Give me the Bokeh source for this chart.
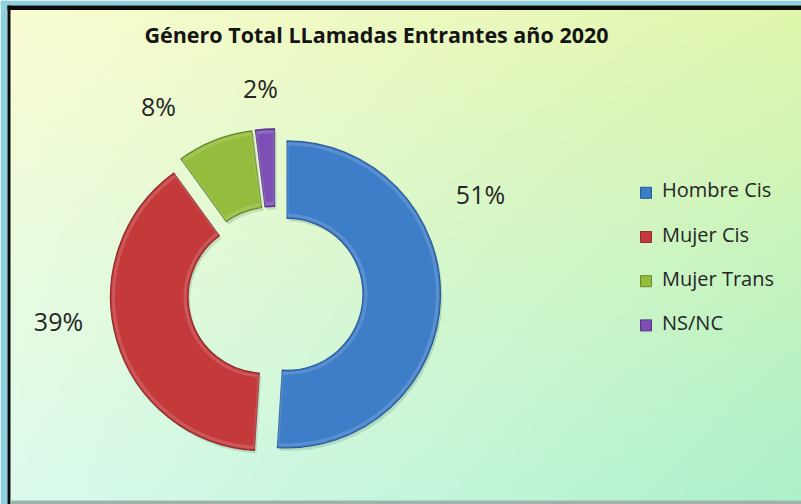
import numpy as np
from bokeh.plotting import figure
from bokeh.models import Range1d, ColumnDataSource
from bokeh.core.properties import value
from bokeh.embed import file_html
from bokeh.resources import INLINE

# ---- data ----
categories = ["Hombre Cis", "Mujer Cis", "Mujer Trans", "NS/NC"]
values = [51, 39, 8, 2]
title_text = "Género Total LLamadas Entrantes año 2020"

# ---- styles / layout (data y = 504 - screen y) ----
colors = ["#3e7dc8", "#c43a3b", "#94bd3d", "#7c4fb4"]
edge_colors = ["#2a5a98", "#8e2b2c", "#68862a", "#553283"]
W, H = 801, 504
cx, cy = 274.8, 210.5
R_out, R_in = 153.5, 76.0
explode = 11.7
label_x = [480, 58, 158, 260]
label_y = [311, 184, 399, 417]
FONT = "Open Sans"

p = figure(width=W, height=H, output_backend="svg", toolbar_location=None,
           x_range=Range1d(0, W), y_range=Range1d(0, H),
           x_axis_location=None, y_axis_location=None, min_border=0)
p.grid.visible = False
p.outline_line_color = None
p.background_fill_color = None
p.border_fill_color = "#8ecfe0"

# ---- background gradient ----
TL = np.array([250, 252, 210.0]); TR = np.array([226, 247, 172.0])
BL = np.array([220, 251, 238.0]); BR = np.array([172, 241, 204.0])
ny, nx = H, W
u = np.linspace(0, 1, nx)[None, :, None]
v = np.linspace(0, 1, ny)[:, None, None]  # 0 = bottom row (data y = 0)
top = TL * (1 - u) + TR * u
bot = BL * (1 - u) + BR * u
rgb = bot * (1 - v) + top * v
img = np.empty((ny, nx), dtype=np.uint32)
view = img.view(dtype=np.uint8).reshape((ny, nx, 4))
view[:, :, 0] = rgb[:, :, 0].astype(np.uint8)
view[:, :, 1] = rgb[:, :, 1].astype(np.uint8)
view[:, :, 2] = rgb[:, :, 2].astype(np.uint8)
view[:, :, 3] = 255
p.image_rgba(image=[img], x=0, y=0, dw=W, dh=H)

# outer light-blue frame, black rule (top and left), bottom grey rule
p.quad(left=[0, 0], right=[W, 7], bottom=[H - 5, 0], top=[H, H],
       fill_color="#8ecfe0", line_color=None)
p.quad(left=[7, 7], right=[W, 10], bottom=[H - 9.5, 0], top=[H - 5, H - 5],
       fill_color="#0a0a0a", line_color=None)
p.quad(left=[10], right=[W], bottom=[0], top=[4],
       fill_color="#9fb3aa", line_color=None)

# ---- donut ----
vals = np.array(values, dtype=float)
frac = vals / vals.sum()
cum_end = np.cumsum(frac) * 360.0
cum_start = cum_end - frac * 360.0
start = np.deg2rad(90.0 - cum_end)
end = np.deg2rad(90.0 - cum_start)
mid = (start + end) / 2.0
xs = cx + explode * np.cos(mid)
ys = cy + explode * np.sin(mid)

src = ColumnDataSource(dict(x=xs, y=ys, start=start, end=end,
                            color=colors, edge=edge_colors,
                            sx=xs + 2.0, sy=ys - 3.0))
# shadow
p.annular_wedge(x="sx", y="sy", inner_radius=R_in, outer_radius=R_out,
                start_angle="start", end_angle="end",
                source=src, fill_color="#2a5a3a", fill_alpha=0.16, line_color=None)
p.annular_wedge(x="x", y="y", inner_radius=R_in, outer_radius=R_out,
                start_angle="start", end_angle="end",
                source=src, fill_color="color", line_color="edge", line_width=1.2)
# bevel highlight
p.annular_wedge(x="x", y="y", inner_radius=R_in + 3, outer_radius=R_out - 3,
                start_angle="start", end_angle="end",
                source=src, fill_color=None, line_color="white", line_alpha=0.15,
                line_width=3)

# ---- percentage labels ----
pct = [f"{int(round(f * 100))}%" for f in frac]
p.text(x=label_x, y=label_y, text=pct, text_align="center",
       text_baseline="alphabetic", text_font=value(FONT),
       text_font_size="25px", text_color="#262626")

# ---- title ----
p.text(x=[376], y=[470], text=[title_text], text_align="center",
       text_baseline="alphabetic", text_font=value(FONT),
       text_font_size="21.5px", text_font_style="bold", text_color="#141414")

# ---- legend ----
leg_x = 645.5
leg_y0, leg_dy = 311.7, 44.2
ly = [leg_y0 - i * leg_dy for i in range(len(categories))]
p.scatter(x=[leg_x] * len(categories), y=ly, marker="square", size=11,
          fill_color=colors, line_color=edge_colors, line_width=1)
p.text(x=[leg_x + 16] * len(categories), y=[yy + 3 for yy in ly],
       text=categories, text_align="left", text_baseline="alphabetic",
       text_font=value(FONT), text_font_size="20px", text_color="#262626")

html = file_html(p, INLINE)
open("out.html", "w").write(html)
